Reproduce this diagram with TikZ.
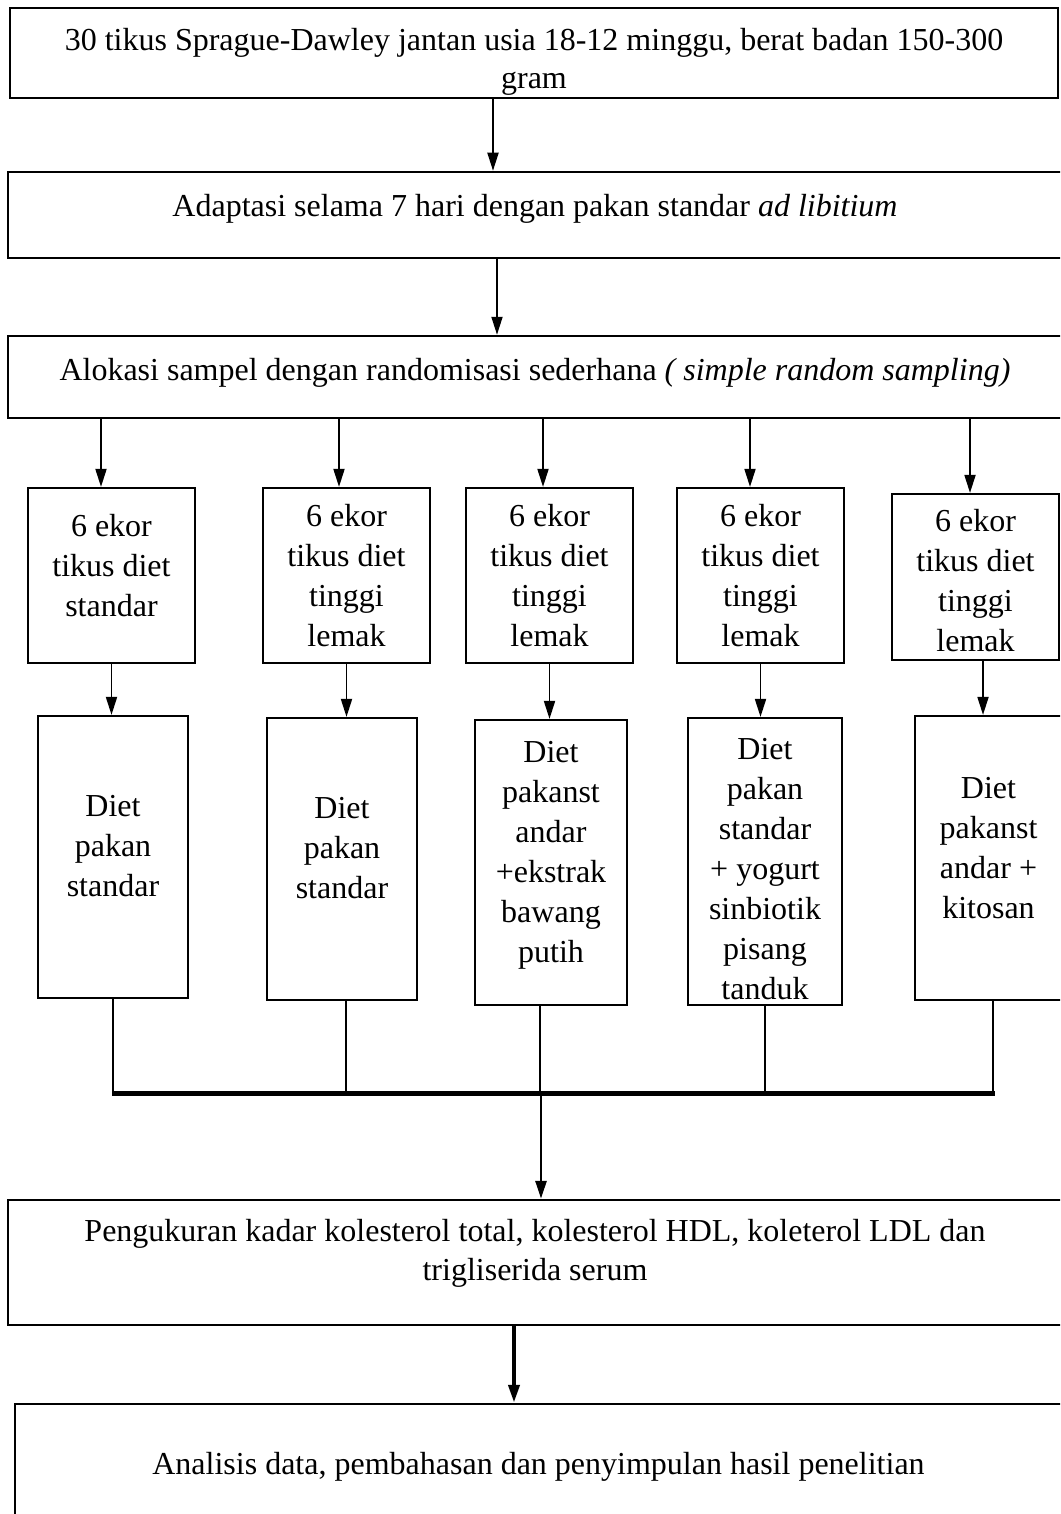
\documentclass[tikz,border=0pt]{standalone}
\usepackage{fontspec}
\setmainfont{Liberation Serif}
\usepackage{tikz}
\usetikzlibrary{shapes,arrows,arrows.meta}
\tikzstyle{wide} = [rectangle, draw, line width=1.25pt, inner sep=0pt, align=center]
\tikzstyle{group} = [rectangle, draw, line width=1.1pt, minimum width=83.5pt,
    minimum height=87.5pt, inner sep=0pt, align=center]
\tikzstyle{diet} = [rectangle, draw, line width=1.1pt, minimum width=75pt,
    minimum height=141pt, inner sep=0pt, align=center]
\tikzstyle{line} = [draw, line width=0.9pt, -{Triangle[length=9pt, width=5.5pt]}]
\tikzstyle{joint} = [draw, line width=1.4pt]
% struts to move text off the middle of a box
\newcommand{\lo}[1]{\rule[-#1]{0pt}{#1}}
\newcommand{\hi}[1]{\rule{0pt}{#1}}

\begin{document}
\begin{tikzpicture}[x=0.5pt, y=-0.5pt, font=\fontsize{16}{20}\selectfont]
    \useasboundingbox (0,0) rectangle (1060,1514);
    \clip (0,0) rectangle (1060,1514);
    % Place nodes
    \node [wide, minimum width=524pt, minimum height=45pt] (start) at (534,53)
        {\hi{20pt}30 tikus Sprague-Dawley jantan usia 18-12 minggu, berat badan 150-300\\[-1pt]gram};
    \node [wide, minimum width=527pt, minimum height=43pt] (adapt) at (535,215)
        {Adaptasi selama 7 hari dengan pakan standar \textit{ad libitium}\lo{9.5pt}};
    \node [wide, minimum width=527pt, minimum height=41pt] (alloc) at (535,377)
        {Alokasi sampel dengan randomisasi sederhana \textit{( simple random sampling)}\lo{7.5pt}};
    \node [group] (b1) at (111.5,575.5) {6 ekor\\tikus diet\\standar\lo{10pt}};
    \node [group] (b2) at (346.5,575.5) {6 ekor\\tikus diet\\tinggi\\lemak};
    \node [group] (b3) at (549.5,575.5) {6 ekor\\tikus diet\\tinggi\\lemak};
    \node [group] (b4) at (760.5,575.5) {6 ekor\\tikus diet\\tinggi\\lemak};
    \node [group, minimum height=83pt] (b5) at (975.5,577) {\hi{15pt}6 ekor\\tikus diet\\tinggi\\lemak};
    \node [diet] (c1) at (113,857) {Diet\\pakan\\standar\lo{11pt}};
    \node [diet] (c2) at (342,859) {Diet\\pakan\\standar\lo{11pt}};
    \node [diet, minimum width=76pt, minimum height=142.5pt] (c3) at (551,862.5)
        {Diet\\pakanst\\andar\\+ekstrak\\bawang\\putih\lo{10.5pt}};
    \node [diet, minimum width=77pt, minimum height=143.5pt] (c4) at (765,861.5)
        {\hi{18pt}Diet\\pakan\\standar\\+ yogurt\\sinbiotik\\pisang\\tanduk};
    \node [diet, minimum width=73.5pt, minimum height=142pt] (c5) at (988.5,858)
        {Diet\\pakanst\\andar +\\kitosan\lo{10pt}};
    \node [wide, minimum width=527pt, minimum height=62.5pt] (check) at (535,1262.5)
        {Pengukuran kadar kolesterol total, kolesterol HDL, koleterol LDL dan\\[-0.5pt]trigliserida serum\lo{13pt}};
    \node [wide, minimum width=523.5pt, minimum height=63pt] (final) at (538.5,1467)
        {Analisis data, pembahasan dan penyimpulan hasil penelitian};
    \coordinate (busl) at (112,1093);
    \coordinate (busm) at (541,1093);
    \coordinate (busr) at (995,1093);
    % Draw edges
    \path [line] ([xshift=-20.5pt]start.south) -- ([xshift=-20.5pt]start.south |- adapt.north);
    \path [line] ([xshift=-19pt]adapt.south) -- ([xshift=-19pt]adapt.south |- alloc.north);
    \path [line] ([xshift=-5.25pt]b1.north |- alloc.south) -- ([xshift=-5.25pt]b1.north);
    \path [line] ([xshift=-3.75pt]b2.north |- alloc.south) -- ([xshift=-3.75pt]b2.north);
    \path [line] ([xshift=-3.25pt]b3.north |- alloc.south) -- ([xshift=-3.25pt]b3.north);
    \path [line] ([xshift=-5.25pt]b4.north |- alloc.south) -- ([xshift=-5.25pt]b4.north);
    \path [line] ([xshift=-2.75pt]b5.north |- alloc.south) -- ([xshift=-2.75pt]b5.north);
    \path [line] (b1.south) -- (b1.south |- c1.north);
    \path [line] (b2.south) -- (b2.south |- c2.north);
    \path [line] (b3.south) -- (b3.south |- c3.north);
    \path [line] (b4.south) -- (b4.south |- c4.north);
    \path [line] ([xshift=3.75pt]b5.south) -- ([xshift=3.75pt]b5.south |- c5.north);
    \path [joint] (c1.south) -- (c1.south |- busl);
    \path [joint] ([xshift=2pt]c2.south) -- ([xshift=2pt]c2.south |- busl);
    \path [joint] ([xshift=-5.5pt]c3.south) -- ([xshift=-5.5pt]c3.south |- busl);
    \path [joint] (c4.south) -- (c4.south |- busl);
    \path [joint] ([xshift=2.25pt]c5.south) -- ([xshift=2.25pt]c5.south |- busl);
    \path [draw, line width=2.5pt] (busl) -- (busr);
    \path [line, line width=1.4pt] (busm) -- (busm |- check.north);
    \path [line, line width=2pt] ([xshift=-10.5pt]check.south) -- ([xshift=-10.5pt]check.south |- final.north);
\end{tikzpicture}
\end{document}
